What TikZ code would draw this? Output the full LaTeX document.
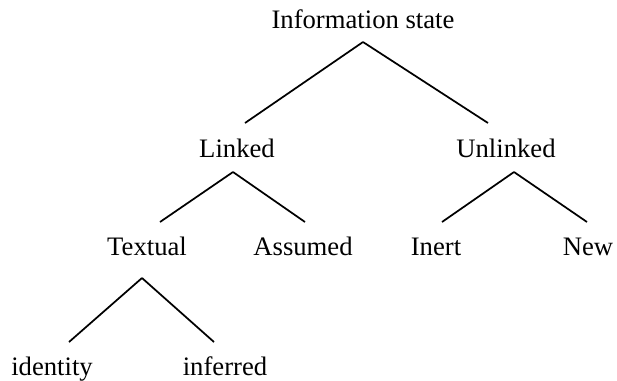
\documentclass[tikz,border=0pt]{standalone}
\usepackage{fontspec}
\setmainfont{Liberation Serif}
\usepackage{tikz}
\tikzset{every picture/.style={line width=0.75pt}}

\begin{document}
\begin{tikzpicture}[x=0.75pt,y=0.75pt,yscale=-1,xscale=1,
  lbl/.style={anchor=base,inner sep=0.75pt,font=\fontsize{20}{24}\selectfont},
  branch/.style={line width=1.3pt}]
\useasboundingbox (0,0) rectangle (617,380);

% Text Node
\node [lbl] (info) at (363,28) {Information state};
% Text Node
\node [lbl] (linked) at (237,157) {Linked};
% Text Node
\node [lbl] (unlinked) at (506,157) {Unlinked};
% Text Node
\node [lbl] (textual) at (147,255) {Textual};
% Text Node
\node [lbl] (assumed) at (303,255) {Assumed};
% Text Node
\node [lbl] (inert) at (436,255) {Inert};
% Text Node
\node [lbl] (new) at (588,255) {New};
% Text Node
\node [lbl] (identity) at (52,375) {identity};
% Text Node
\node [lbl] (inferred) at (225,375) {inferred};

%Straight Lines
\draw [branch] ([shift={(0,14)}]info.base) -- ([shift={(8,-34)}]linked.base);
\draw [branch] ([shift={(0,14)}]info.base) -- ([shift={(-18,-34)}]unlinked.base);
%Straight Lines
\draw [branch] ([shift={(-4,15)}]linked.base) -- ([shift={(13,-33)}]textual.base);
\draw [branch] ([shift={(-4,15)}]linked.base) -- ([shift={(2,-33)}]assumed.base);
%Straight Lines
\draw [branch] ([shift={(8,15)}]unlinked.base) -- ([shift={(6,-33)}]inert.base);
\draw [branch] ([shift={(8,15)}]unlinked.base) -- ([shift={(-1,-33)}]new.base);
%Straight Lines
\draw [branch] ([shift={(-5,23)}]textual.base) -- ([shift={(17,-33)}]identity.base);
\draw [branch] ([shift={(-5,23)}]textual.base) -- ([shift={(-11,-33)}]inferred.base);

\end{tikzpicture}
\end{document}
